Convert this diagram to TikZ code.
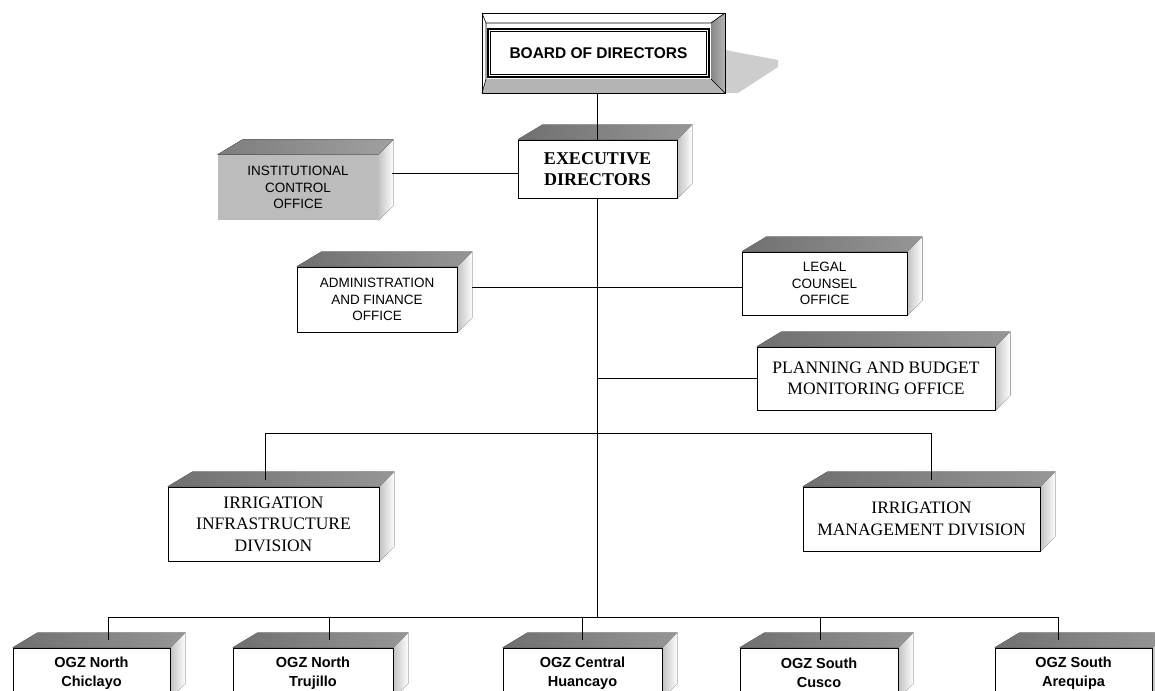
\documentclass[tikz,border=0pt]{standalone}
\usepackage{fontspec}
\setmainfont{Liberation Serif}
\setsansfont{Liberation Sans}
\usetikzlibrary{calc}
\pgfdeclarelayer{faces}
\pgfdeclarelayer{lines}
\pgfsetlayers{faces,lines,main}
\definecolor{topdark}{RGB}{112,112,112}
\definecolor{toplight}{RGB}{150,150,150}
\definecolor{sidegray}{RGB}{195,195,195}
\definecolor{instgray}{RGB}{188,188,188}
\definecolor{shadowgray}{RGB}{205,205,205}
\definecolor{bevdark}{RGB}{135,135,135}
\definecolor{bevmid}{RGB}{180,180,180}
\tikzset{
  front/.style={draw=black, line width=0.9pt, fill=white, inner sep=0pt, align=center},
  instfront/.style={draw=none, fill=instgray},
  sanstxt/.style={font=\sffamily\fontsize{13.5}{16.5}\selectfont},
  sansbold/.style={font=\sffamily\bfseries\fontsize{14.5}{19}\selectfont},
  seriftxt/.style={font=\rmfamily\fontsize{17.5}{21.5}\selectfont},
  serifbold/.style={font=\rmfamily\bfseries\fontsize{18}{21}\selectfont},
  topface/.style={left color=topdark, right color=toplight},
  sideface/.style={left color=sidegray, right color=white},
  conn/.style={draw=black, line width=0.8pt},
}
\newcommand\mkbox[7]{\node[front,#6,minimum width={#4-#2},minimum height={#5-#3}] (#1) at ({(#2+#4)/2},{(#3+#5)/2}) {#7};}
\newcommand\mkfaces[1]{%
 \begin{pgfonlayer}{faces}
 \fill[topface] (#1.north west) -- ($(#1.north west)+(25,-15)$) -- ($(#1.north east)+(15,-15)$) -- (#1.north east) -- cycle;
 \fill[sideface] (#1.north east) -- ($(#1.north east)+(15,-15)$) -- ($(#1.south east)+(15,-15)$) -- (#1.south east) -- cycle;
 \end{pgfonlayer}}
\begin{document}
\begin{tikzpicture}[x=1pt,y=-1pt]
\useasboundingbox (0,0) rectangle (1155,690);
\clip (0,0) rectangle (1155,690);

% ---------- board of directors ----------
\fill[shadowgray] (725,50) -- (778,60) -- (778,67) -- (738,93) -- (725,93) -- cycle;
\node[draw=black, line width=0.9pt, fill=white, minimum width=243, minimum height=80, inner sep=0pt] (boardframe) at (603.5,53) {};
\fill[bevmid] (482,93) -- (725,93) -- (711,79) -- (486,79) -- cycle;
\fill[left color=bevdark, right color=bevmid] (725,13) -- (725,93) -- (711,79) -- (711,23) -- cycle;
\draw[line width=0.6pt] (482,13) -- (486,23) -- (711,23) -- (725,13);
\draw[line width=0.6pt] (486,23) -- (486,79) -- (482,93);
\draw[line width=0.6pt] (711,79) -- (725,93);
\draw[line width=0.9pt] (482,13) rectangle (725,93);
\node[draw=black, line width=1.4pt, fill=white, minimum width=221, minimum height=48, inner sep=0pt,
      font=\sffamily\bfseries\fontsize{15.5}{18}\selectfont] (board) at (598.5,53) {BOARD OF DIRECTORS};
\draw[line width=0.5pt] ($(board.north west)+(3,3)$) rectangle ($(board.south east)+(-3,-3)$);

% ---------- boxes ----------
\mkbox{exec}{518}{140}{677}{198}{serifbold}{EXECUTIVE\\DIRECTORS}
\mkbox{instit}{218}{155}{378}{220}{instfront,sanstxt}{INSTITUTIONAL\\CONTROL\\OFFICE}
\mkbox{admin}{297}{267}{457}{332}{sanstxt}{ADMINISTRATION\\AND FINANCE\\OFFICE}
\mkbox{legal}{742}{252}{907}{315}{sanstxt}{LEGAL\\COUNSEL\\OFFICE}
\mkbox{plan}{757}{347}{995}{410}{seriftxt}{PLANNING AND BUDGET\\MONITORING OFFICE}
\mkbox{infra}{168}{487}{379}{561}{seriftxt}{IRRIGATION\\INFRASTRUCTURE\\DIVISION}
\mkbox{mgmt}{803}{487}{1040}{551}{seriftxt}{IRRIGATION\\MANAGEMENT DIVISION}
\mkbox{chic}{13}{648}{170}{698}{sansbold}{OGZ North\\Chiclayo}
\mkbox{truj}{233}{648}{393}{698}{sansbold}{OGZ North\\Trujillo}
\mkbox{cent}{503}{648}{662}{698}{sansbold}{OGZ Central\\Huancayo}
\mkbox{cusc}{740}{648}{898}{698}{sansbold}{OGZ South\\Cusco}
\mkbox{areq}{995}{648}{1152}{698}{sansbold}{OGZ South\\Arequipa}

\foreach \b in {exec,instit,admin,legal,plan,infra,mgmt,chic,truj,cent,cusc,areq}{\mkfaces{\b}}
\begin{pgfonlayer}{faces}
\fill[left color={rgb,255:red,125;green,125;blue,125}, right color={rgb,255:red,160;green,160;blue,160}]
  (instit.north west) -- ($(instit.north west)+(25,-15)$) -- ($(instit.north east)+(15,-15)$) -- (instit.north east) -- cycle;
\end{pgfonlayer}

% ---------- connector points ----------
\coordinate (bus) at (597.5,617);
\coordinate (busL) at (108,617);
\coordinate (busR) at (1058,617);
\coordinate (divL) at (265,433);
\coordinate (divR) at (931,433);
\coordinate (infraT) at (265,480);
\coordinate (mgmtT) at (931,480);
\coordinate (icA) at (392,173);
\coordinate (acA) at (472,287);
\coordinate (chicT) at (108,640);
\coordinate (trujT) at (329,640);
\coordinate (centT) at (582,640);
\coordinate (cuscT) at (820,640);
\coordinate (areqT) at (1058,640);

\begin{pgfonlayer}{lines}
\draw[conn] (exec.north |- boardframe.south) -- (bus);
\draw[conn] (icA) -- (icA -| exec.west);
\draw[conn] (acA) -- (acA -| legal.west);
\draw[conn] (plan.west -| exec.south) -- (plan.west);
\draw[conn] (divL) -- (divR);
\draw[conn] (divL) -- (infraT);
\draw[conn] (divR) -- (mgmtT);
\draw[conn] (busL) -- (busR);
\draw[conn] (chicT |- busL) -- (chicT);
\draw[conn] (trujT |- busL) -- (trujT);
\draw[conn] (centT |- busL) -- (centT);
\draw[conn] (cuscT |- busL) -- (cuscT);
\draw[conn] (areqT |- busL) -- (areqT);
\end{pgfonlayer}
\end{tikzpicture}
\end{document}
